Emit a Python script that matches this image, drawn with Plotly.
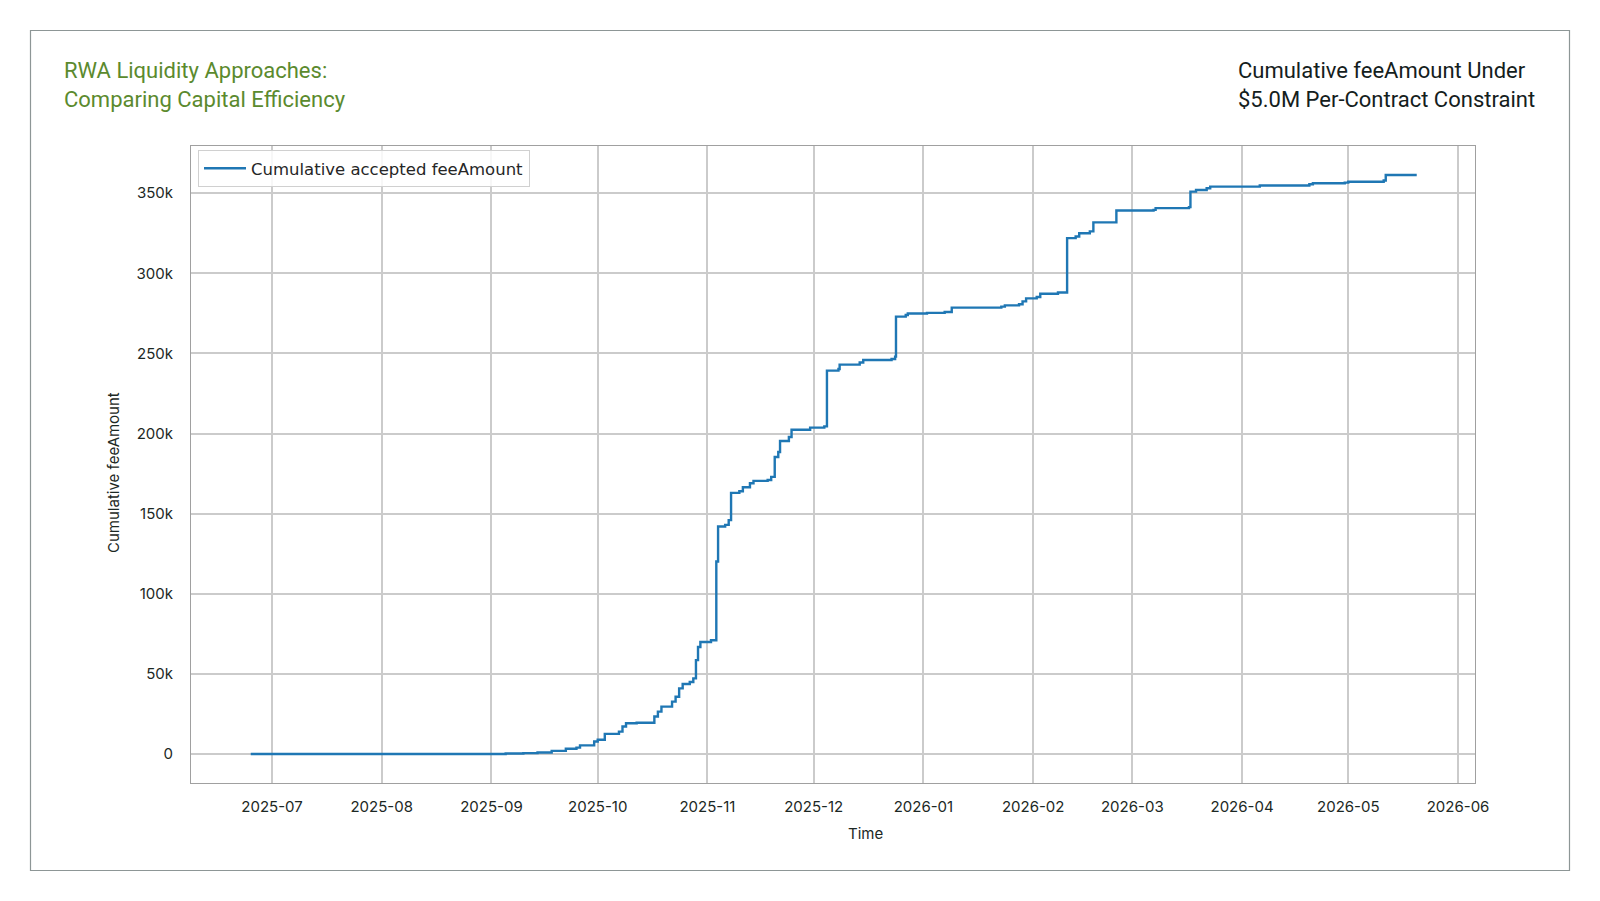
import plotly.graph_objects as go

# ---- data ----
dates = [
    "2025-06-25", "2025-09-05", "2025-09-10", "2025-09-14", "2025-09-18", "2025-09-22",
    "2025-09-25", "2025-09-26", "2025-09-30", "2025-10-01", "2025-10-03", "2025-10-07",
    "2025-10-08", "2025-10-09", "2025-10-12", "2025-10-17", "2025-10-18", "2025-10-19",
    "2025-10-22", "2025-10-23", "2025-10-24", "2025-10-25", "2025-10-27", "2025-10-28",
    "2025-10-28 18:00", "2025-10-29 08:00", "2025-10-30", "2025-11-02", "2025-11-03 12:00",
    "2025-11-04", "2025-11-06", "2025-11-07", "2025-11-07 16:00", "2025-11-10", "2025-11-11",
    "2025-11-13", "2025-11-14", "2025-11-18", "2025-11-19", "2025-11-20", "2025-11-21",
    "2025-11-21 12:00", "2025-11-24", "2025-11-24 18:00", "2025-11-30", "2025-12-04",
    "2025-12-04 18:00", "2025-12-08", "2025-12-08 08:00", "2025-12-14", "2025-12-15",
    "2025-12-23", "2025-12-24", "2025-12-24 06:00", "2025-12-27", "2025-12-27 14:00",
    "2026-01-02", "2026-01-07", "2026-01-09", "2026-01-23", "2026-01-24", "2026-01-28",
    "2026-01-29", "2026-01-30", "2026-02-02", "2026-02-03", "2026-02-08", "2026-02-10 14:00",
    "2026-02-13", "2026-02-14", "2026-02-17", "2026-02-18", "2026-02-24 12:00", "2026-03-07",
    "2026-03-07 14:00", "2026-03-17", "2026-03-17 10:00", "2026-03-19", "2026-03-22",
    "2026-03-23", "2026-04-06", "2026-04-20", "2026-04-21", "2026-04-30", "2026-05-01",
    "2026-05-11", "2026-05-11 14:00", "2026-05-20 08:00",
]
cum_fee = [
    0, 300, 600, 1000, 2000, 3300,
    4000, 5400, 7800, 8900, 12600, 14000,
    17200, 19200, 19500, 23400, 26500, 29600,
    32700, 35800, 41000, 43700, 45000, 47200,
    58600, 66800, 69900, 71000, 120200,
    142000, 143000, 146000, 163000, 164000, 166500,
    169000, 170500, 171000, 173000, 185400, 188500,
    195400, 197900, 202400, 203700, 204500,
    239300, 240300, 243000, 244400, 245900,
    246500, 248000, 273000, 274000, 274900,
    275300, 275900, 278600, 279200, 280000, 280700,
    282500, 284400, 285200, 287300, 288000, 322000,
    323000, 325000, 326200, 331800, 339200, 339600,
    340700, 341300, 351000, 352000, 353100,
    354100, 354800, 355600, 356200, 356600, 357200,
    357900, 361400, 361400,
]
series_name = "Cumulative accepted feeAmount"

y_tick_vals = [0, 50000, 100000, 150000, 200000, 250000, 300000, 350000]
y_tick_text = ["0", "50k", "100k", "150k", "200k", "250k", "300k", "350k"]
x_tick_vals = ["2025-07-01", "2025-08-01", "2025-09-01", "2025-10-01", "2025-11-01",
               "2025-12-01", "2026-01-01", "2026-02-01", "2026-03-01", "2026-04-01",
               "2026-05-01", "2026-06-01"]
x_tick_text = ["2025-07", "2025-08", "2025-09", "2025-10", "2025-11", "2025-12",
               "2026-01", "2026-02", "2026-03", "2026-04", "2026-05", "2026-06"]

title_left = "RWA Liquidity Approaches:<br>Comparing Capital Efficiency"
title_right = "Cumulative feeAmount Under<br>$5.0M Per-Contract Constraint"
x_title = "Time"
y_title = "Cumulative feeAmount"

# ---- figure ----
fig = go.Figure()
fig.add_trace(go.Scatter(
    x=dates, y=cum_fee, mode="lines", name=series_name,
    line=dict(color="#1f77b4", width=2.4, shape="hv"),
    showlegend=True,
))

W, H = 1600, 901
L, R, T, B = 191, 125, 146, 118
pw, ph = W - L - R, H - T - B

def px(x):
    return (x - L) / pw

def py(y):
    return (H - B - y) / ph

txt = "#1c2824"

fig.update_layout(
    width=W, height=H,
    margin=dict(l=L, r=R, t=T, b=B, pad=0),
    paper_bgcolor="white", plot_bgcolor="white",
    font=dict(family="Inter, Roboto, sans-serif", color=txt, size=15),
    showlegend=True,
    legend=dict(
        x=px(198), y=py(150), xanchor="left", yanchor="top",
        bgcolor="rgba(255,255,255,0.85)", bordercolor="#d0d0d0", borderwidth=1,
        font=dict(family="DejaVu Sans", size=16.5, color="#262626"),
        itemwidth=42,
    ),
    shapes=[dict(
        type="rect", xref="paper", yref="paper",
        x0=px(30.5), x1=px(1569.5), y0=py(870.5), y1=py(30.5),
        line=dict(color="#8d9696", width=1.2), fillcolor="rgba(0,0,0,0)", layer="below",
    )],
    annotations=[
        dict(text=title_left, xref="paper", yref="paper", x=px(62), y=py(85),
             xanchor="left", yanchor="middle", align="left", showarrow=False,
             font=dict(family="Roboto", size=22, color="#5b8a2e")),
        dict(text=title_right, xref="paper", yref="paper", x=px(1236), y=py(85),
             xanchor="left", yanchor="middle", align="left", showarrow=False,
             font=dict(family="Roboto", size=22, color="#14201c")),
        dict(text=x_title, xref="paper", yref="paper", x=px(865), y=py(833),
             xanchor="center", yanchor="middle", showarrow=False,
             font=dict(family="Inter", size=15, color=txt)),
        dict(text=y_title, xref="paper", yref="paper", x=px(114), y=py(473),
             xanchor="center", yanchor="middle", showarrow=False, textangle=-90,
             font=dict(family="Inter", size=15, color=txt)),
    ],
)

fig.update_xaxes(
    type="date",
    range=["2025-06-08 03:00", "2026-06-05 19:00"],
    tickvals=x_tick_vals, ticktext=x_tick_text,
    showgrid=True, gridcolor="#cbcbcb", gridwidth=1.6,
    showline=True, linecolor="#a0a0a0", linewidth=1, mirror=True,
    ticks="outside", ticklen=10, tickcolor="rgba(0,0,0,0)",
    tickfont=dict(family="Inter", size=15, color=txt),
    zeroline=False,
)
fig.update_yaxes(
    range=[-18070, 379470],
    tickvals=y_tick_vals, ticktext=y_tick_text,
    showgrid=True, gridcolor="#cbcbcb", gridwidth=1.6,
    showline=True, linecolor="#a0a0a0", linewidth=1, mirror=True,
    ticks="outside", ticklen=14, tickcolor="rgba(0,0,0,0)",
    tickfont=dict(family="Inter", size=15, color=txt),
    zeroline=False,
)

fig.write_html("out.html")
